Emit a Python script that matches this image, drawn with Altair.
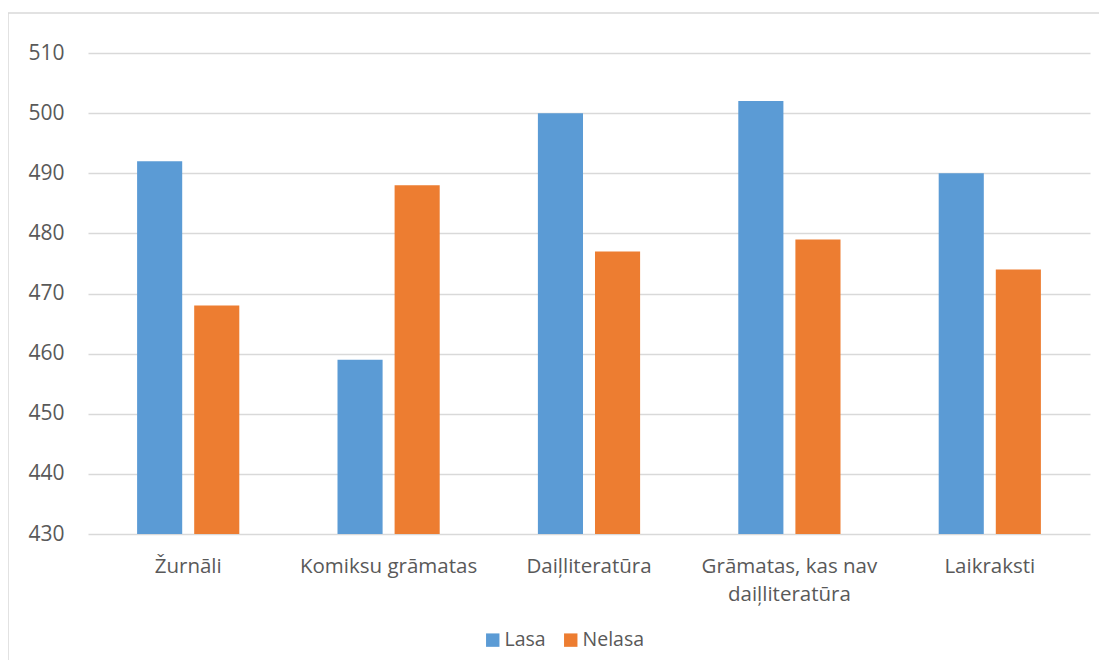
import altair as alt
import pandas as pd

categories = ["Žurnāli", "Komiksu grāmatas", "Daiļliteratūra",
              "Grāmatas, kas nav daiļliteratūra", "Laikraksti"]
series = ["Lasa", "Nelasa"]
lasa = [492, 459, 500, 502, 490]
nelasa = [468, 488, 477, 479, 474]
y_ticks = [430, 440, 450, 460, 470, 480, 490, 500, 510]
colors = ["#5B9BD5", "#ED7D31"]

rows = []
for c, a, b in zip(categories, lasa, nelasa):
    rows.append({"kategorija": c, "grupa": "Lasa", "vertiba": a})
    rows.append({"kategorija": c, "grupa": "Nelasa", "vertiba": b})
df = pd.DataFrame(rows)

FONT = "Open Sans"
TXT = "#595959"
GRID = "#d9d9d9"

label_expr = ("datum.label == 'Grāmatas, kas nav daiļliteratūra' ? "
              "['Grāmatas, kas nav', 'daiļliteratūra'] : datum.label")

bars = alt.Chart(df).mark_bar().encode(
    x=alt.X("kategorija:N", sort=categories, title=None,
            scale=alt.Scale(paddingInner=0.49, paddingOuter=0.245),
            axis=alt.Axis(labelAngle=0, domain=False, ticks=False,
                          labelFontSize=20.5, labelColor=TXT, labelFont=FONT,
                          labelPadding=22, labelLineHeight=28,
                          labelExpr=label_expr)),
    xOffset=alt.XOffset("grupa:N", sort=series,
                        scale=alt.Scale(paddingInner=0.21, paddingOuter=0)),
    y=alt.Y("vertiba:Q", title=None,
            scale=alt.Scale(domain=[430, 510], zero=False, nice=False),
            axis=alt.Axis(values=y_ticks, domain=False, ticks=False,
                          grid=True, gridColor=GRID, gridWidth=1.5,
                          labelFontSize=21, labelColor=TXT, labelFont=FONT,
                          labelPadding=24)),
    y2=alt.datum(430),
    color=alt.Color("grupa:N", sort=series, title=None,
                    scale=alt.Scale(domain=series, range=colors),
                    legend=alt.Legend(orient="none", direction="horizontal",
                                      legendX=395, legendY=577,
                                      symbolType="square", symbolSize=180,
                                      symbolStrokeWidth=0, symbolOpacity=1,
                                      labelFontSize=19.5, labelColor=TXT,
                                      labelFont=FONT, labelOffset=2,
                                      columnPadding=15)),
)

border = alt.Chart(pd.DataFrame({"a": [0]})).mark_rect(
    fillOpacity=0, stroke=GRID, strokeWidth=1.5
).encode(
    x=alt.value(-80), x2=alt.value(1040),
    y=alt.value(-40), y2=alt.value(660),
)

chart = alt.layer(border, bars).properties(
    width=1002, height=481, background="white",
    autosize=alt.AutoSizeParams(type="none"),
    padding={"left": 80, "top": 45, "right": 9, "bottom": 126},
).configure_view(stroke=None)

chart.save("out.html", embed_options={"renderer": "svg", "actions": False})
